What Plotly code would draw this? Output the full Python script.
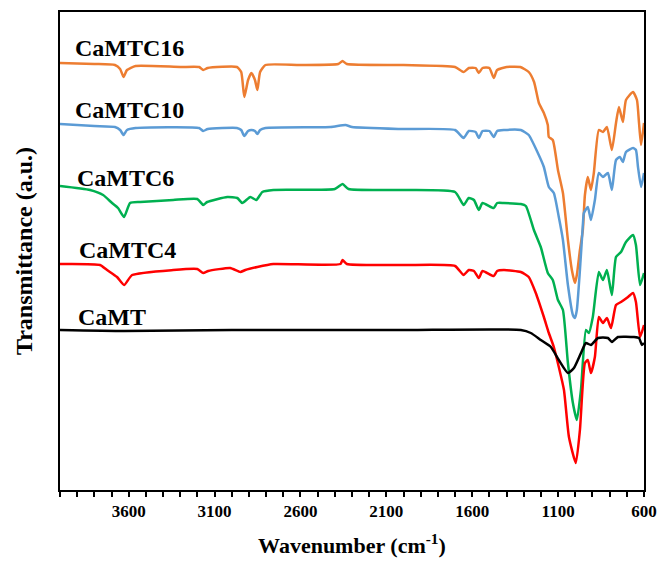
import plotly.graph_objects as go

# Wavenumber (cm-1) and transmittance (a.u., offset per sample)
wn_c16 = [4000, 3800, 3680, 3650, 3630, 3610, 3560, 3300, 3190, 3166, 3140, 2970, 2945, 2927, 2905, 2886, 2865, 2851, 2835, 2804,
          2600, 2380, 2355, 2330, 2000, 1700, 1650, 1620, 1580, 1562, 1540, 1500, 1475, 1455, 1400, 1320, 1271, 1240, 1212, 1183,
          1160, 1154, 1131, 1101, 1072, 1043, 1020, 1002, 991, 973, 956, 944, 927, 909, 892, 863, 839, 816, 787, 763,
          746, 723, 705, 664, 641, 629, 617, 600]
t_c16 = [427, 426, 425, 421, 413, 420, 424, 423, 423, 420, 422, 423, 418, 393, 410, 417, 410, 400, 418, 425,
         425, 426, 429, 426, 425, 423, 418, 422, 422, 417, 422, 422, 412, 420, 423, 423, 418, 408, 387, 377,
         365, 353, 350, 320, 297, 250, 220, 207, 215, 240, 260, 295, 313, 300, 317, 360, 358, 363, 340, 367,
         383, 368, 390, 398, 390, 367, 345, 367]

wn_c10 = [4000, 3800, 3680, 3650, 3630, 3610, 3560, 3190, 3166, 3140, 2970, 2945, 2927, 2905, 2886, 2865, 2851, 2835, 2804,
          2425, 2338, 2300, 2017, 1700, 1650, 1620, 1580, 1562, 1540, 1500, 1475, 1455, 1416, 1317, 1271, 1218, 1183,
          1154, 1125, 1096, 1072, 1043, 1014, 1002, 991, 973, 956, 950, 927, 909, 886, 863, 839, 810, 787, 763, 740,
          723, 705, 664, 647, 635, 617, 600]
t_c10 = [366, 364, 363, 360, 355, 360, 362, 362, 359, 361, 362, 360, 354, 359, 360, 359, 356, 360, 362,
         363, 365, 363, 361, 360, 352, 359, 358, 352, 359, 359, 353, 359, 360, 360, 355, 337, 323,
         303, 297, 273, 250, 205, 175, 172, 180, 220, 265, 277, 283, 270, 290, 317, 313, 317, 300, 330, 333,
         328, 338, 342, 340, 323, 303, 317]

wn_c6 = [4000, 3825, 3749, 3697, 3662, 3627, 3592, 3533, 3341, 3201, 3166, 3143, 3026, 2968, 2939, 2892, 2857, 2822, 2758,
         2400, 2355, 2320, 2000, 1700, 1650, 1620, 1590, 1562, 1540, 1475, 1455, 1416, 1317, 1288, 1241, 1201, 1160,
         1131, 1101, 1072, 1043, 1014, 991, 967, 938, 921, 898, 863, 839, 816, 787, 763, 734, 705, 664, 647, 623, 600]
t_c6 = [304, 300, 295, 287, 282, 273, 287, 288, 290, 291, 285, 288, 293, 292, 287, 293, 290, 298, 300,
        301, 306, 301, 300, 298, 285, 292, 290, 280, 287, 282, 287, 287, 286, 284, 260, 243, 217,
        210, 190, 180, 127, 87, 70, 100, 160, 157, 173, 218, 210, 220, 195, 233, 238, 248, 255, 245, 205, 217]

wn_c4 = [4000, 3767, 3726, 3668, 3627, 3580, 3341, 3201, 3166, 3137, 3009, 2950, 2921, 2851, 2758, 2367, 2355, 2330, 2000,
         1700, 1650, 1620, 1590, 1562, 1540, 1475, 1455, 1416, 1317, 1271, 1230, 1183, 1154, 1125, 1096, 1066, 1037,
         997, 973, 944, 927, 909, 886, 863, 839, 816, 792, 763, 734, 693, 664, 647, 623, 600]
t_c4 = [226, 225, 220, 213, 205, 215, 220, 221, 217, 219, 222, 218, 220, 223, 226, 226, 230, 226, 225,
        224, 215, 220, 219, 212, 219, 214, 219, 220, 218, 213, 197, 173, 157, 143, 123, 100, 53,
        27, 60, 127, 130, 117, 133, 173, 167, 172, 162, 185, 188, 193, 197, 188, 153, 165]

wn_mt = [4000, 3627, 3000, 2000, 1317, 1259, 1201, 1142, 1096, 1043, 1008, 967, 938, 909, 868, 810, 787, 752, 658, 629, 612, 600]
t_mt = [160, 159, 160, 160, 160, 157, 150, 143, 130, 117, 122, 137, 147, 145, 152, 152, 148, 153, 153, 152, 145, 147]

names = ["CaMTC16", "CaMTC10", "CaMTC6", "CaMTC4", "CaMT"]
colors = ["#ED7D31", "#5B9BD5", "#00B050", "#FF0000", "#000000"]
label_x = [3924, 3924, 3913, 3901, 3906]
label_y = [442, 380, 312, 240, 173]
x_ticks = [3600, 3100, 2600, 2100, 1600, 1100, 600]

series = [(wn_c16, t_c16), (wn_c10, t_c10), (wn_c6, t_c6), (wn_c4, t_c4), (wn_mt, t_mt)]

FONT = "Times New Roman, Liberation Serif, serif"

fig = go.Figure()
for (xs, ys), name, col in zip(series, names, colors):
    fig.add_trace(go.Scatter(x=xs, y=ys, mode="lines", name=name,
                             line=dict(color=col, width=2.5, shape="spline", smoothing=0.5)))

for name, lx, ly in zip(names, label_x, label_y):
    fig.add_annotation(x=lx, y=ly, text=name, showarrow=False, xanchor="left", yanchor="middle",
                       font=dict(family=FONT, size=24, color="black", weight="bold"))

fig.update_layout(
    width=662, height=562,
    margin=dict(l=60, r=18, t=12, b=72, autoexpand=False),
    paper_bgcolor="white", plot_bgcolor="white",
    showlegend=False,
    font=dict(family=FONT, color="black", weight="bold"),
    xaxis=dict(range=[4000, 600], tickmode="array", tickvals=x_ticks, automargin=False,
               ticks="outside", ticklen=5, tickwidth=2, tickcolor="black",
               minor=dict(ticks="outside", ticklen=5, tickwidth=2, tickcolor="black", dtick=100, tick0=0),
               showline=True, linewidth=2, linecolor="black", mirror=True,
               showgrid=False, zeroline=False,
               tickfont=dict(family=FONT, size=17, color="black", weight="bold"),
               title=dict(text="Wavenumber (cm<sup>-1</sup>)", standoff=17,
                          font=dict(family=FONT, size=22, color="black", weight="bold"))),
    yaxis=dict(range=[0, 478], showticklabels=False, ticks="", automargin=False,
               showline=True, linewidth=2, linecolor="black", mirror=True,
               showgrid=False, zeroline=False,
               title=dict(text="Transmittance (a.u.)", standoff=19,
                          font=dict(family=FONT, size=24, color="black", weight="bold"))),
)

fig.write_html("out.html")
